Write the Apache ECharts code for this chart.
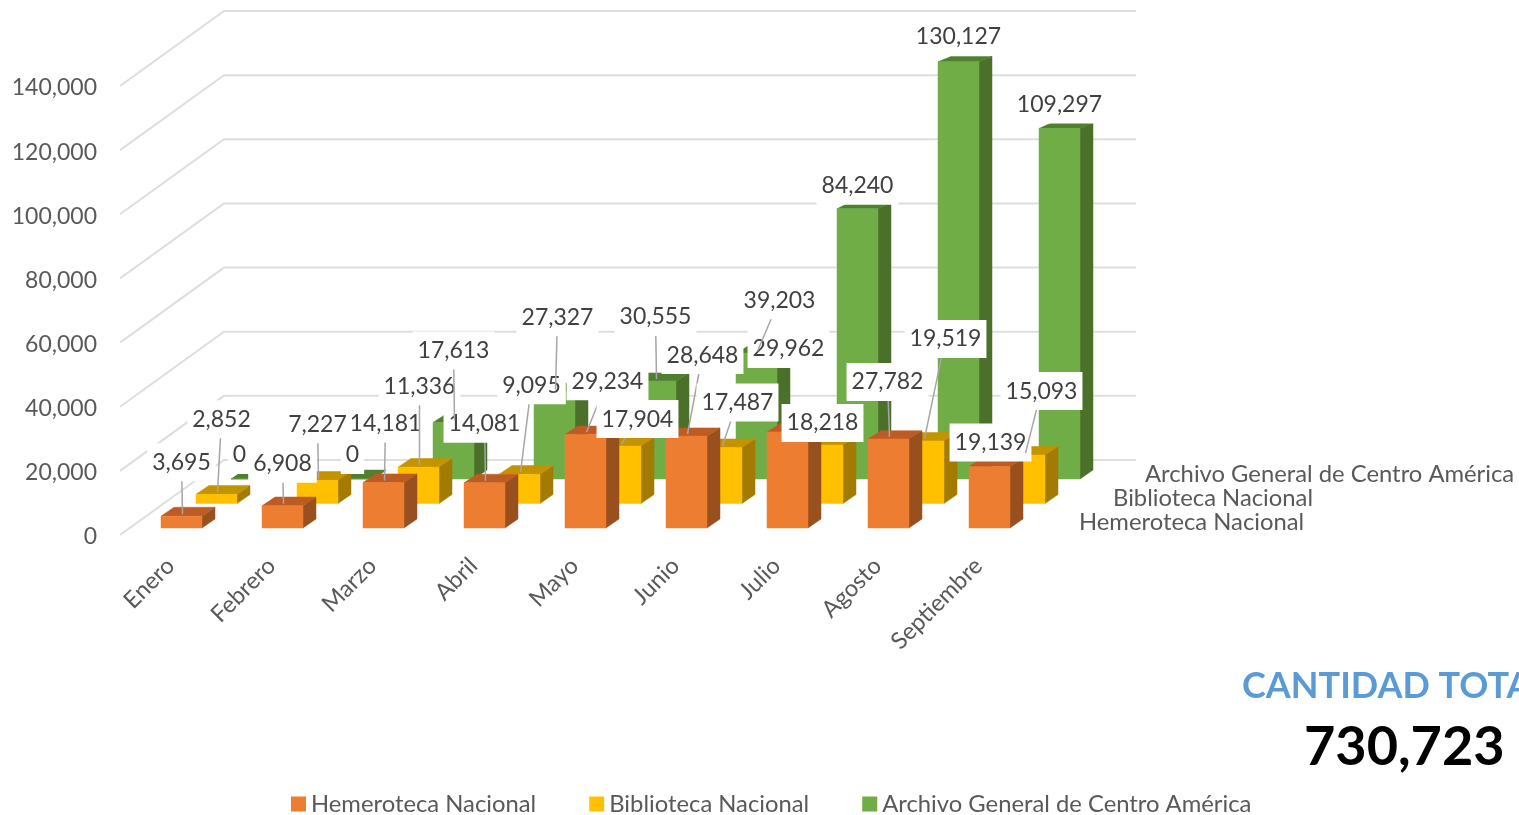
<!DOCTYPE html>
<html>
<head>
<meta charset="utf-8">
<title>Cantidad total</title>
<script src="https://cdn.jsdelivr.net/npm/echarts@6/dist/echarts.min.js"></script>
<style>
html, body { margin: 0; padding: 0; background: #fff; overflow: hidden; }
#chart { width: 1519px; height: 815px; }
</style>
</head>
<body>
<div id="chart"></div>
<script>
// Datos
const categories = ['Enero', 'Febrero', 'Marzo', 'Abril', 'Mayo', 'Junio', 'Julio', 'Agosto', 'Septiembre'];
const hemeroteca = [3695, 6908, 14181, 14081, 29234, 28648, 29962, 27782, 19139];
const biblioteca = [2852, 7227, 11336, 9095, 17904, 17487, 18218, 19519, 15093];
const archivo = [0, 0, 17613, 27327, 30555, 39203, 84240, 130127, 109297];
const yTicks = [0, 20000, 40000, 60000, 80000, 100000, 120000, 140000];
const total = '730,723';

// Desplazamiento de cada etiqueta respecto a su barra: [dx, dy, linea guia]
const hemerotecaLabels = [[0, -55, 1], [0, -43, 1], [2, -60, 1], [0, -60, 1], [22, -54, 1], [16, -82, 1], [1, -84, 0], [-1, -58, 1], [1, -25, 0]];
const bibliotecaLabels = [[5, -76, 1], [0, -57, 1], [1, -82, 1], [12, -90, 1], [17, -28, 1], [16, -46, 1], [0, -23, 0], [22, -103, 1], [17, -65, 1]];
const archivoLabels = [[-12, -25, 0], [0, -25, 0], [0, -73, 1], [3, -75, 1], [0, -65, 1], [23, -54, 1], [0, -24, 0], [0, -26, 0], [0, -25, 0]];

const FONT = 'Lato, "Open Sans", sans-serif';
const TEXT_COLOR = '#595959';
const VALUE_SIZE = 23;
const NAME_SIZE = 23.8;

// Perspectiva falsa: pared del fondo, filas de barras y fondo de cada barra
const WALL = [104, -75];
const ROW = [35, -24.5];
const FRONT = [11, -7];
const DEPTH = [13, -9];
const BAR_WIDTH = 41;

const rows = [
    { name: 'Hemeroteca Nacional', values: hemeroteca, labels: hemerotecaLabels, front: '#ED7D31', top: '#BC5C24', side: '#98501F', z: 4 },
    { name: 'Biblioteca Nacional', values: biblioteca, labels: bibliotecaLabels, front: '#FFC000', top: '#C49300', side: '#A37B00', z: 3 },
    { name: 'Archivo General de Centro América', values: archivo, labels: archivoLabels, front: '#70AD47', top: '#50802F', side: '#4A7029', z: 2 }
];

function anchor(api, cat, value, rowIndex) {
    const p = api.coord([cat, value]);
    return [p[0] + FRONT[0] + ROW[0] * rowIndex, p[1] + FRONT[1] + ROW[1] * rowIndex];
}

function poly(points, fill) {
    return { type: 'polygon', shape: { points: points }, style: { fill: fill, stroke: fill, lineWidth: 0.5 } };
}

function renderBar(row, rowIndex) {
    return function (params, api) {
        const cat = api.value(0);
        const value = api.value(1);
        const top = anchor(api, cat, value, rowIndex);
        const base = anchor(api, cat, 0, rowIndex);
        const l = top[0] - BAR_WIDTH / 2;
        const r = top[0] + BAR_WIDTH / 2;
        const dx = DEPTH[0];
        // las barras altas se ven con la cara superior mas aplastada
        const dy = DEPTH[1] + 4 * value / 140000;
        return {
            type: 'group',
            children: [
                poly([[r, top[1]], [r + dx, top[1] + dy], [r + dx, base[1] + DEPTH[1]], [r, base[1]]], row.side),
                poly([[l, top[1]], [l + dx, top[1] + dy], [r + dx, top[1] + dy], [r, top[1]]], row.top),
                poly([[l, top[1]], [r, top[1]], [r, base[1]], [l, base[1]]], row.front)
            ]
        };
    };
}

function renderWall(params, api) {
    const value = api.value(1);
    const start = api.coord([0, value]);
    const band = api.size([1, 0])[0];
    const x0 = start[0] - band / 2;
    const x1 = api.coord([categories.length - 1, value])[0] + band / 2 + WALL[0] + 3;
    return {
        type: 'polyline',
        shape: { points: [[x0, start[1]], [x0 + WALL[0], start[1] + WALL[1]], [x1, start[1] + WALL[1]]] },
        style: { fill: 'none', stroke: '#DEDEDE', lineWidth: 2 }
    };
}

function renderLabel(params, api) {
    const rowIndex = api.value(2);
    const a = anchor(api, api.value(0), api.value(1), rowIndex);
    const x = a[0] + api.value(3);
    const y = a[1] + api.value(4);
    const children = [];
    if (api.value(5)) {
        children.push({
            type: 'line',
            shape: { x1: x, y1: y, x2: a[0] + 1, y2: a[1] - 2 },
            style: { stroke: '#A6A6A6', lineWidth: 1.5 }
        });
    }
    children.push({
        type: 'text',
        x: x,
        y: y + 1,
        style: {
            text: api.value(1).toLocaleString('en-US'),
            align: 'center',
            verticalAlign: 'middle',
            fill: '#404040',
            font: VALUE_SIZE + 'px ' + FONT,
            backgroundColor: '#fff',
            padding: [11, 5, 4, 5]
        }
    });
    return { type: 'group', children: children };
}

const labelData = [];
rows.forEach((row, r) => {
    row.values.forEach((v, i) => {
        labelData.push([i, v, r, row.labels[i][0], row.labels[i][1], row.labels[i][2]]);
    });
});

const series = rows.map((row, r) => ({
    name: row.name,
    type: 'custom',
    z: row.z,
    itemStyle: { color: row.front },
    data: row.values.map((v, i) => [i, v]),
    encode: { x: 0, y: 1 },
    renderItem: renderBar(row, r)
}));

series.push({
    name: 'paredes',
    type: 'custom',
    z: 1,
    silent: true,
    data: yTicks.map(v => [0, v]),
    encode: { x: 0, y: 1 },
    renderItem: renderWall
});

series.push({
    name: 'etiquetas',
    type: 'custom',
    z: 10,
    silent: true,
    data: labelData,
    encode: { x: 0, y: 1 },
    renderItem: renderLabel
});

function sideText(name, left, top) {
    return {
        type: 'text',
        left: left,
        top: top,
        style: { text: name, fill: TEXT_COLOR, font: NAME_SIZE + 'px ' + FONT }
    };
}

const chart = echarts.init(document.getElementById('chart'), null, { renderer: 'canvas' });

chart.setOption({
    animation: false,
    grid: { left: 120, top: 86, width: 909, height: 449, containLabel: false },
    xAxis: {
        type: 'category',
        data: categories,
        axisLine: { show: false },
        axisTick: { show: false },
        axisLabel: { rotate: 45, margin: 27, interval: 0, color: TEXT_COLOR, fontFamily: FONT, fontSize: 23.5 }
    },
    yAxis: {
        type: 'value',
        min: 0,
        max: 140000,
        interval: 20000,
        axisLine: { show: false },
        axisTick: { show: false },
        splitLine: { show: false },
        axisLabel: {
            margin: 23,
            verticalAlign: 'top',
            lineHeight: 4,
            color: TEXT_COLOR,
            fontFamily: FONT,
            fontSize: VALUE_SIZE,
            formatter: v => v.toLocaleString('en-US')
        }
    },
    legend: {
        data: rows.map(r => r.name),
        left: 286,
        top: 787,
        icon: 'rect',
        itemWidth: 15,
        itemHeight: 15,
        itemGap: 53,
        textStyle: { color: TEXT_COLOR, fontFamily: FONT, fontSize: NAME_SIZE }
    },
    graphic: [
        sideText(rows[2].name, 1145, 462),
        sideText(rows[1].name, 1113, 486),
        sideText(rows[0].name, 1079, 510),
        {
            type: 'text',
            left: 1242,
            top: 668,
            style: { text: 'CANTIDAD TOTAL', fill: '#5B9BD5', font: 'bold 36px ' + FONT }
        },
        {
            type: 'text',
            left: 1304,
            top: 721,
            style: { text: total, fill: '#000', font: 'bold 54px ' + FONT }
        }
    ],
    series: series
});
</script>
</body>
</html>
